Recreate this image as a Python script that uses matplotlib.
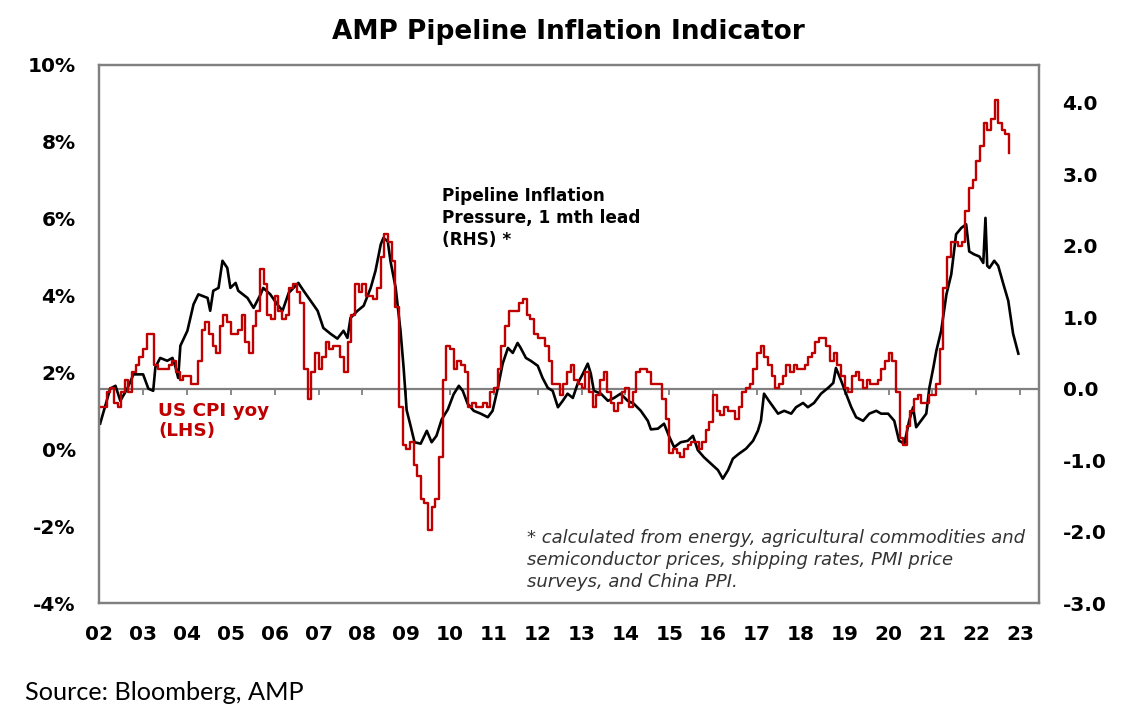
import matplotlib.pyplot as plt
import numpy as np

plt.rcParams['font.family'] = 'DejaVu Sans'
plt.rcParams['font.weight'] = 'bold'

# US CPI yoy (%), monthly from Jan 2002 to Oct 2022
cpi_start = 2002
cpi_yoy = [
    1.1, 1.1, 1.5, 1.6, 1.2, 1.1, 1.5, 1.8, 1.5, 2.0, 2.2, 2.4,   # 2002
    2.6, 3.0, 3.0, 2.2, 2.1, 2.1, 2.1, 2.2, 2.3, 2.0, 1.8, 1.9,   # 2003
    1.9, 1.7, 1.7, 2.3, 3.1, 3.3, 3.0, 2.7, 2.5, 3.2, 3.5, 3.3,   # 2004
    3.0, 3.0, 3.1, 3.5, 2.8, 2.5, 3.2, 3.6, 4.7, 4.3, 3.5, 3.4,   # 2005
    4.0, 3.6, 3.4, 3.5, 4.2, 4.3, 4.1, 3.8, 2.1, 1.3, 2.0, 2.5,   # 2006
    2.1, 2.4, 2.8, 2.6, 2.7, 2.7, 2.4, 2.0, 2.8, 3.5, 4.3, 4.1,   # 2007
    4.3, 4.0, 4.0, 3.9, 4.2, 5.0, 5.6, 5.4, 4.9, 3.7, 1.1, 0.1,   # 2008
    0.0, 0.2, -0.4, -0.7, -1.3, -1.4, -2.1, -1.5, -1.3, -0.2, 1.8, 2.7,  # 2009
    2.6, 2.1, 2.3, 2.2, 2.0, 1.1, 1.2, 1.1, 1.1, 1.2, 1.1, 1.5,   # 2010
    1.6, 2.1, 2.7, 3.2, 3.6, 3.6, 3.6, 3.8, 3.9, 3.5, 3.4, 3.0,   # 2011
    2.9, 2.9, 2.7, 2.3, 1.7, 1.7, 1.4, 1.7, 2.0, 2.2, 1.8, 1.7,   # 2012
    1.6, 2.0, 1.5, 1.1, 1.4, 1.8, 2.0, 1.5, 1.2, 1.0, 1.2, 1.5,   # 2013
    1.6, 1.1, 1.5, 2.0, 2.1, 2.1, 2.0, 1.7, 1.7, 1.7, 1.3, 0.8,   # 2014
    -0.1, 0.0, -0.1, -0.2, 0.0, 0.1, 0.2, 0.2, 0.0, 0.2, 0.5, 0.7,  # 2015
    1.4, 1.0, 0.9, 1.1, 1.0, 1.0, 0.8, 1.1, 1.5, 1.6, 1.7, 2.1,   # 2016
    2.5, 2.7, 2.4, 2.2, 1.9, 1.6, 1.7, 1.9, 2.2, 2.0, 2.2, 2.1,   # 2017
    2.1, 2.2, 2.4, 2.5, 2.8, 2.9, 2.9, 2.7, 2.3, 2.5, 2.2, 1.9,   # 2018
    1.6, 1.5, 1.9, 2.0, 1.8, 1.6, 1.8, 1.7, 1.7, 1.8, 2.1, 2.3,   # 2019
    2.5, 2.3, 1.5, 0.3, 0.1, 0.6, 1.0, 1.3, 1.4, 1.2, 1.2, 1.4,   # 2020
    1.4, 1.7, 2.6, 4.2, 5.0, 5.4, 5.4, 5.3, 5.4, 6.2, 6.8, 7.0,   # 2021
    7.5, 7.9, 8.5, 8.3, 8.6, 9.1, 8.5, 8.3, 8.2, 7.7,             # 2022
]

# Pipeline inflation pressure (RHS), dates as decimal years
pipe_t = [
    2002.02, 2002.25, 2002.37, 2002.48, 2002.64, 2002.78, 2003.00, 2003.12, 2003.23, 2003.28,
    2003.39, 2003.55, 2003.67, 2003.74, 2003.80, 2003.85, 2004.01, 2004.15, 2004.26, 2004.47,
    2004.53, 2004.60, 2004.72, 2004.81, 2004.92, 2004.99, 2005.11, 2005.17, 2005.38, 2005.52,
    2005.68, 2005.74, 2005.90, 2006.06, 2006.18, 2006.32, 2006.43, 2006.54, 2006.66, 2006.82,
    2006.98, 2007.11, 2007.27, 2007.43, 2007.57, 2007.66, 2007.73, 2007.89, 2008.03, 2008.19,
    2008.30, 2008.42, 2008.48, 2008.58, 2008.64, 2008.76, 2008.87, 2008.94, 2009.01, 2009.10,
    2009.19, 2009.33, 2009.47, 2009.58, 2009.69, 2009.81, 2009.95, 2010.08, 2010.20, 2010.29,
    2010.40, 2010.54, 2010.70, 2010.86, 2010.97, 2011.09, 2011.20, 2011.32, 2011.43, 2011.54,
    2011.61, 2011.73, 2011.84, 2012.00, 2012.11, 2012.23, 2012.34, 2012.46, 2012.57, 2012.68,
    2012.80, 2012.91, 2013.03, 2013.14, 2013.21, 2013.28, 2013.44, 2013.60, 2013.74, 2013.89,
    2014.05, 2014.19, 2014.35, 2014.51, 2014.58, 2014.74, 2014.88, 2014.99, 2015.11, 2015.26,
    2015.42, 2015.54, 2015.65, 2015.79, 2015.95, 2016.11, 2016.22, 2016.34, 2016.45, 2016.59,
    2016.75, 2016.91, 2017.02, 2017.09, 2017.16, 2017.27, 2017.48, 2017.62, 2017.78, 2017.89,
    2018.05, 2018.16, 2018.30, 2018.46, 2018.62, 2018.74, 2018.80, 2018.92, 2019.03, 2019.15,
    2019.26, 2019.42, 2019.56, 2019.72, 2019.83, 2019.99, 2020.13, 2020.24, 2020.36, 2020.47,
    2020.56, 2020.63, 2020.74, 2020.86, 2020.93, 2021.02, 2021.09, 2021.20, 2021.32, 2021.43,
    2021.54, 2021.66, 2021.77, 2021.84, 2021.95, 2022.07, 2022.16, 2022.21, 2022.25, 2022.30,
    2022.41, 2022.50, 2022.62, 2022.73, 2022.84, 2022.96,
]
pipe_v = [
    -0.49, 0.00, 0.04, -0.17, 0.00, 0.20, 0.20, 0.00, -0.03, 0.30,
    0.43, 0.39, 0.43, 0.30, 0.15, 0.60, 0.81, 1.18, 1.32, 1.27,
    1.09, 1.37, 1.41, 1.79, 1.69, 1.41, 1.48, 1.37, 1.27, 1.13,
    1.32, 1.41, 1.32, 1.18, 1.09, 1.34, 1.41, 1.48, 1.37, 1.23,
    1.09, 0.85, 0.77, 0.70, 0.81, 0.71, 0.99, 1.09, 1.16, 1.41,
    1.65, 2.02, 2.11, 2.06, 1.79, 1.41, 0.81, 0.30, -0.30, -0.52,
    -0.75, -0.77, -0.59, -0.75, -0.66, -0.43, -0.29, -0.08, 0.04, -0.03,
    -0.21, -0.31, -0.35, -0.40, -0.31, 0.01, 0.35, 0.57, 0.50, 0.64,
    0.57, 0.43, 0.39, 0.32, 0.15, 0.01, -0.03, -0.26, -0.17, -0.07,
    -0.13, 0.07, 0.21, 0.35, 0.21, -0.03, -0.07, -0.17, -0.13, -0.07,
    -0.17, -0.21, -0.31, -0.45, -0.57, -0.56, -0.49, -0.66, -0.82, -0.75,
    -0.73, -0.66, -0.86, -0.96, -1.05, -1.14, -1.26, -1.14, -0.98, -0.91,
    -0.84, -0.73, -0.59, -0.45, -0.07, -0.17, -0.35, -0.31, -0.35, -0.26,
    -0.20, -0.26, -0.20, -0.07, 0.01, 0.08, 0.29, 0.11, -0.07, -0.26,
    -0.40, -0.45, -0.35, -0.31, -0.35, -0.35, -0.45, -0.73, -0.77, -0.45,
    -0.26, -0.54, -0.45, -0.35, 0.01, 0.29, 0.53, 0.81, 1.32, 1.60,
    2.16, 2.25, 2.30, 1.92, 1.88, 1.85, 1.76, 2.39, 1.72, 1.69,
    1.79, 1.72, 1.46, 1.23, 0.77, 0.49,
]

year_ticks = list(range(2002, 2024))
year_labels = [f"{y % 100:02d}" for y in year_ticks]
left_ticks = [-4, -2, 0, 2, 4, 6, 8, 10]
right_ticks = [-3, -2, -1, 0, 1, 2, 3, 4]

red = '#C00000'
gray = '#808080'

fig = plt.figure(figsize=(11.33, 7.22), dpi=100)
ax = fig.add_axes([0.0876, 0.1648, 0.8294, 0.7452])
ax2 = ax.twinx()

# zero line of the RHS with small year ticks hanging below it
ax2.axhline(0, color=gray, lw=1.6, zorder=1)
ax2.plot(year_ticks[1:], [0] * len(year_ticks[1:]), ls='none', marker=3,
         ms=4.5, mew=1.3, color=gray, zorder=1)
ax2.plot(pipe_t, pipe_v, color='black', lw=1.9, zorder=2)

cpi_t = cpi_start + np.arange(len(cpi_yoy)) / 12
ax.plot(cpi_t, cpi_yoy, color=red, lw=1.7, drawstyle='steps-post')
ax.set_zorder(ax2.get_zorder() + 1)
ax.patch.set_visible(False)

ax.set_xlim(2002, 2023.43)
ax.set_ylim(-4, 10)
ax2.set_ylim(-3, 4.53)

ax.set_yticks(left_ticks)
ax.set_yticklabels([f"{v}%" for v in left_ticks])
ax2.set_yticks(right_ticks)
ax2.set_yticklabels([f"{v:.1f}" for v in right_ticks])
ax.set_xticks(year_ticks)
ax.set_xticklabels(year_labels)

ax.tick_params(axis='y', length=0, pad=17, labelsize=14.5)
ax.tick_params(axis='x', length=0, pad=16, labelsize=14.5)
ax2.tick_params(axis='y', length=0, pad=17, labelsize=14.5)

for a in (ax, ax2):
    for s in a.spines.values():
        s.set_color(gray)
        s.set_linewidth(1.6)

fig.text(0.502, 1 - 32 / 722, 'AMP Pipeline Inflation Indicator',
         ha='center', va='center', fontsize=19, fontweight='bold')

fig.text(0.390, 0.741, 'Pipeline Inflation\nPressure, 1 mth lead\n(RHS) *',
         ha='left', va='top', fontsize=12.2, linespacing=1.27)

fig.text(0.1395, 0.4432, 'US CPI yoy\n(LHS)', ha='left', va='top',
         fontsize=13.2, color=red, linespacing=1.17)

fig.text(0.465, 0.268,
         '* calculated from energy, agricultural commodities and\n'
         'semiconductor prices, shipping rates, PMI price\n'
         'surveys, and China PPI.',
         ha='left', va='top', fontsize=13, style='italic',
         fontweight='normal', color='#333333', linespacing=1.3)

fig.text(0.022, 1 - 692 / 722, 'Source: Bloomberg, AMP', ha='left',
         va='center', fontsize=18.2, fontweight='normal', family='Lato')

fig.savefig('out.png', dpi=100)
